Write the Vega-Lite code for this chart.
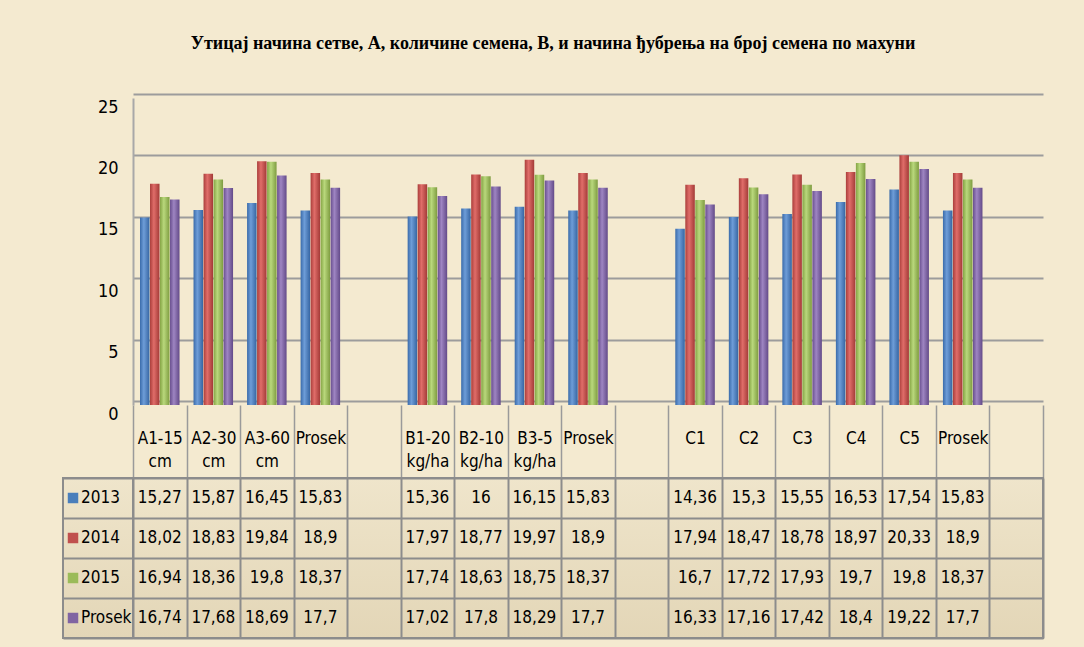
{
  "$schema": "https://vega.github.io/schema/vega-lite/v6.json",
  "background": "#F4EAD0",
  "padding": {"left": 62, "top": 35, "right": 42, "bottom": 9},
  "config": {
    "view": {"stroke": null},
    "locale": {"number": {"decimal": ",", "thousands": ".", "grouping": [3], "currency": ["", ""]}},
    "axis": {"labelFont": "Liberation Sans Narrow, DejaVu Sans Condensed, Lato", "labelColor": "#000000"},
    "text": {"font": "Liberation Sans Narrow, DejaVu Sans Condensed, Lato", "color": "#000000"}
  },
  "title": {
    "text": "Утицај начина сетве, А, количине семена, В, и начина ђубрења на број семена по махуни",
    "font": "Liberation Serif",
    "fontWeight": "bold",
    "fontSize": 18,
    "color": "#000000",
    "anchor": "middle",
    "offset": 45
  },
  "datasets": {
    "bars": [
      {"k": "A1-15 cm", "s": "2013", "v": 15.27}, {"k": "A1-15 cm", "s": "2014", "v": 18.02}, {"k": "A1-15 cm", "s": "2015", "v": 16.94}, {"k": "A1-15 cm", "s": "Prosek", "v": 16.74},
      {"k": "A2-30 cm", "s": "2013", "v": 15.87}, {"k": "A2-30 cm", "s": "2014", "v": 18.83}, {"k": "A2-30 cm", "s": "2015", "v": 18.36}, {"k": "A2-30 cm", "s": "Prosek", "v": 17.68},
      {"k": "A3-60 cm", "s": "2013", "v": 16.45}, {"k": "A3-60 cm", "s": "2014", "v": 19.84}, {"k": "A3-60 cm", "s": "2015", "v": 19.8}, {"k": "A3-60 cm", "s": "Prosek", "v": 18.69},
      {"k": "Prosek#A", "s": "2013", "v": 15.83}, {"k": "Prosek#A", "s": "2014", "v": 18.9}, {"k": "Prosek#A", "s": "2015", "v": 18.37}, {"k": "Prosek#A", "s": "Prosek", "v": 17.7},
      {"k": "B1-20 kg/ha", "s": "2013", "v": 15.36}, {"k": "B1-20 kg/ha", "s": "2014", "v": 17.97}, {"k": "B1-20 kg/ha", "s": "2015", "v": 17.74}, {"k": "B1-20 kg/ha", "s": "Prosek", "v": 17.02},
      {"k": "B2-10 kg/ha", "s": "2013", "v": 16}, {"k": "B2-10 kg/ha", "s": "2014", "v": 18.77}, {"k": "B2-10 kg/ha", "s": "2015", "v": 18.63}, {"k": "B2-10 kg/ha", "s": "Prosek", "v": 17.8},
      {"k": "B3-5 kg/ha", "s": "2013", "v": 16.15}, {"k": "B3-5 kg/ha", "s": "2014", "v": 19.97}, {"k": "B3-5 kg/ha", "s": "2015", "v": 18.75}, {"k": "B3-5 kg/ha", "s": "Prosek", "v": 18.29},
      {"k": "Prosek#B", "s": "2013", "v": 15.83}, {"k": "Prosek#B", "s": "2014", "v": 18.9}, {"k": "Prosek#B", "s": "2015", "v": 18.37}, {"k": "Prosek#B", "s": "Prosek", "v": 17.7},
      {"k": "C1", "s": "2013", "v": 14.36}, {"k": "C1", "s": "2014", "v": 17.94}, {"k": "C1", "s": "2015", "v": 16.7}, {"k": "C1", "s": "Prosek", "v": 16.33},
      {"k": "C2", "s": "2013", "v": 15.3}, {"k": "C2", "s": "2014", "v": 18.47}, {"k": "C2", "s": "2015", "v": 17.72}, {"k": "C2", "s": "Prosek", "v": 17.16},
      {"k": "C3", "s": "2013", "v": 15.55}, {"k": "C3", "s": "2014", "v": 18.78}, {"k": "C3", "s": "2015", "v": 17.93}, {"k": "C3", "s": "Prosek", "v": 17.42},
      {"k": "C4", "s": "2013", "v": 16.53}, {"k": "C4", "s": "2014", "v": 18.97}, {"k": "C4", "s": "2015", "v": 19.7}, {"k": "C4", "s": "Prosek", "v": 18.4},
      {"k": "C5", "s": "2013", "v": 17.54}, {"k": "C5", "s": "2014", "v": 20.33}, {"k": "C5", "s": "2015", "v": 19.8}, {"k": "C5", "s": "Prosek", "v": 19.22},
      {"k": "Prosek#C", "s": "2013", "v": 15.83}, {"k": "Prosek#C", "s": "2014", "v": 18.9}, {"k": "Prosek#C", "s": "2015", "v": 18.37}, {"k": "Prosek#C", "s": "Prosek", "v": 17.7}
    ],
    "series": [{"s": "2013"}, {"s": "2014"}, {"s": "2015"}, {"s": "Prosek"}]
  },
  "columns": 2,
  "align": "each",
  "bounds": "flush",
  "spacing": {"row": 73, "column": 0},
  "resolve": {"scale": {"x": "independent", "y": "independent"}},
  "concat": [
    {
      "width": 70,
      "height": 307,
      "data": {"values": [{}]},
      "mark": {"type": "point", "opacity": 0},
      "encoding": {}
    },
    {
      "width": 910,
      "height": 307,
      "data": {"name": "bars"},
      "encoding": {
        "x": {
          "field": "k", "type": "nominal", "sort": null,
          "scale": {"domain": ["A1-15 cm", "A2-30 cm", "A3-60 cm", "Prosek#A", "#1", "B1-20 kg/ha", "B2-10 kg/ha", "B3-5 kg/ha", "Prosek#B", "#2", "C1", "C2", "C3", "C4", "C5", "Prosek#C", "#3"], "paddingInner": 0, "paddingOuter": 0},
          "axis": {
            "title": null, "labelAngle": 0, "labelExpr": "isValid(datum.value) ? split(split(datum.value, '#')[0], ' ') : ''",
            "labelFontSize": 17, "labelBaseline": "top", "labelPadding": -48, "labelLineHeight": 23,
            "tickBand": "extent", "tickSize": 73, "tickColor": "#9a9a9a", "tickWidth": 1.5, "domain": false
          }
        },
        "xOffset": {"field": "s", "type": "nominal", "scale": {"domain": ["2013", "2014", "2015", "Prosek"], "paddingOuter": 0.7, "paddingInner": 0.05}},
        "y": {
          "field": "v", "type": "quantitative", "scale": {"domain": [0, 25]},
          "axis": {"title": null, "values": [0, 5, 10, 15, 20, 25], "grid": true, "gridColor": "#9c9c9c", "gridWidth": 2, "domain": true, "domainColor": "#a8a8a8", "domainWidth": 2, "ticks": false, "tickOffset": -4, "labelOffset": 13, "labelPadding": 15, "labelFontSize": 18}
        }
      },
      "layer": [
        {"transform": [{"filter": "datum.s === '2013'"}],
         "mark": {"type": "bar", "fill": {"gradient": "linear", "x1": 0, "x2": 1, "y1": 0, "y2": 0, "stops": [{"offset": 0, "color": "#3A6BAA"}, {"offset": 0.4, "color": "#6E9DD8"}, {"offset": 1, "color": "#3665A2"}]}}},
        {"transform": [{"filter": "datum.s === '2014'"}],
         "mark": {"type": "bar", "fill": {"gradient": "linear", "x1": 0, "x2": 1, "y1": 0, "y2": 0, "stops": [{"offset": 0, "color": "#AA3E3B"}, {"offset": 0.4, "color": "#E06D69"}, {"offset": 1, "color": "#A33A37"}]}}},
        {"transform": [{"filter": "datum.s === '2015'"}],
         "mark": {"type": "bar", "fill": {"gradient": "linear", "x1": 0, "x2": 1, "y1": 0, "y2": 0, "stops": [{"offset": 0, "color": "#84A444"}, {"offset": 0.4, "color": "#B9D87C"}, {"offset": 1, "color": "#7E9C40"}]}}},
        {"transform": [{"filter": "datum.s === 'Prosek'"}],
         "mark": {"type": "bar", "fill": {"gradient": "linear", "x1": 0, "x2": 1, "y1": 0, "y2": 0, "stops": [{"offset": 0, "color": "#684E8E"}, {"offset": 0.4, "color": "#9E85C2"}, {"offset": 1, "color": "#634A88"}]}}}
      ]
    },
    {
      "width": 70,
      "height": 160,
      "data": {"name": "series"},
      "view": {"stroke": "#8c8c8c", "strokeWidth": 2, "fill": {"gradient": "linear", "x1": 0, "x2": 0, "y1": 0, "y2": 1, "stops": [{"offset": 0, "color": "#EFE5CB"}, {"offset": 1, "color": "#E3D6B7"}]}},
      "encoding": {
        "y": {"field": "s", "type": "nominal", "scale": {"domain": ["2013", "2014", "2015", "Prosek"], "paddingInner": 0, "paddingOuter": 0},
              "axis": {"title": null, "labels": false, "ticks": false, "domain": false, "grid": true, "tickBand": "extent", "gridColor": "#8c8c8c", "gridWidth": 2, "gridOpacity": 1}}
      },
      "layer": [
        {"mark": {"type": "square", "size": 110, "opacity": 1, "xOffset": -25},
         "encoding": {"color": {"field": "s", "type": "nominal", "scale": {"domain": ["2013", "2014", "2015", "Prosek"], "range": ["#4A7EBB", "#C0504D", "#9BBB59", "#8064A2"]}, "legend": null}}},
        {"mark": {"type": "text", "align": "left", "xOffset": -17, "fontSize": 17},
         "encoding": {"text": {"field": "s", "type": "nominal"}}}
      ]
    },
    {
      "width": 910,
      "height": 160,
      "data": {"name": "bars"},
      "view": {"stroke": "#8c8c8c", "strokeWidth": 2, "fill": {"gradient": "linear", "x1": 0, "x2": 0, "y1": 0, "y2": 1, "stops": [{"offset": 0, "color": "#EFE5CB"}, {"offset": 1, "color": "#E3D6B7"}]}},
      "mark": {"type": "text", "fontSize": 17},
      "encoding": {
        "x": {"field": "k", "type": "nominal", "sort": null,
              "scale": {"domain": ["A1-15 cm", "A2-30 cm", "A3-60 cm", "Prosek#A", "#1", "B1-20 kg/ha", "B2-10 kg/ha", "B3-5 kg/ha", "Prosek#B", "#2", "C1", "C2", "C3", "C4", "C5", "Prosek#C", "#3"], "paddingInner": 0, "paddingOuter": 0},
              "axis": {"title": null, "labels": false, "ticks": false, "domain": false, "grid": true, "tickBand": "extent", "gridColor": "#8c8c8c", "gridWidth": 2, "gridOpacity": 1}},
        "y": {"field": "s", "type": "nominal", "scale": {"domain": ["2013", "2014", "2015", "Prosek"], "paddingInner": 0, "paddingOuter": 0},
              "axis": {"title": null, "labels": false, "ticks": false, "domain": false, "grid": true, "tickBand": "extent", "gridColor": "#8c8c8c", "gridWidth": 2, "gridOpacity": 1}},
        "text": {"field": "v", "type": "quantitative", "format": "~g"}
      }
    }
  ]
}
